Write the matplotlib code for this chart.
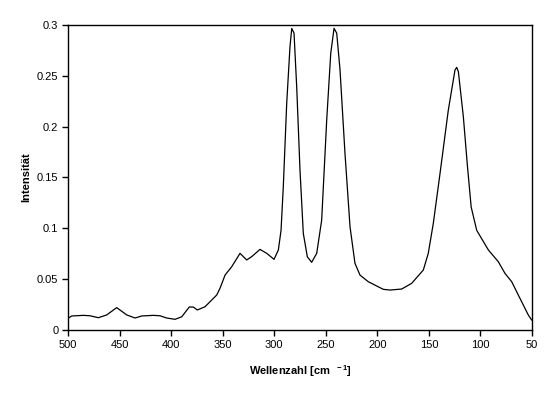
import matplotlib
matplotlib.use("Agg")
import matplotlib.pyplot as plt

plt.rcParams['font.family'] = ['Liberation Sans', 'DejaVu Sans']
plt.rcParams['mathtext.fontset'] = 'custom'
plt.rcParams['mathtext.rm'] = 'Liberation Sans:bold'
plt.rcParams['mathtext.it'] = 'Liberation Sans:bold'
plt.rcParams['mathtext.bf'] = 'Liberation Sans:bold'

wavenumber = [500, 496.4, 485, 478.7, 470.6, 462.5, 452.8, 443, 435, 428.5, 417.3, 410.8,
              404.3, 396.2, 389.7, 382.4, 378.5, 374.6, 367.1, 355.8, 352.6, 347.7, 341.2,
              333.2, 326.7, 321.8, 313.8, 307.3, 300.2, 296, 293.4, 291.2, 287.9, 284.7,
              283, 280.8, 278.2, 275, 271.8, 267.9, 263.7, 258.8, 254, 249.1, 245.2, 242,
              239.4, 236.2, 231.4, 226.5, 221.7, 216.8, 208.8, 202, 194.2, 187.7, 176.4,
              166.7, 155.4, 150.6, 145.7, 139.2, 131.2, 124.7, 123, 121.4, 116.6, 112.6,
              109, 103.6, 92.3, 82.7, 76.2, 69.7, 61.6, 53.6, 50.3]
intensity = [0.0115, 0.0138, 0.0144, 0.014, 0.0121, 0.0148, 0.022, 0.0148, 0.0118, 0.0138,
             0.0144, 0.014, 0.0118, 0.0105, 0.013, 0.0226, 0.0226, 0.0197, 0.0229, 0.0344,
             0.041, 0.054, 0.0623, 0.0754, 0.0689, 0.0722, 0.0793, 0.0754, 0.0695, 0.0787,
             0.098, 0.141, 0.223, 0.279, 0.2966, 0.292, 0.239, 0.157, 0.095, 0.072, 0.0666,
             0.0754, 0.108, 0.2066, 0.272, 0.2967, 0.292, 0.256, 0.174, 0.1016, 0.0656, 0.054,
             0.0475, 0.044, 0.040, 0.0393, 0.0403, 0.0459, 0.059, 0.0754, 0.105, 0.154, 0.216,
             0.2557, 0.2583, 0.254, 0.210, 0.161, 0.121, 0.098, 0.0787, 0.0672, 0.0557, 0.0475,
             0.031, 0.0148, 0.0098]

xticks = [500, 450, 400, 350, 300, 250, 200, 150, 100, 50]
yticks = [0, 0.05, 0.1, 0.15, 0.2, 0.25, 0.3]
ytick_labels = ["0", "0.05", "0.1", "0.15", "0.2", "0.25", "0.3"]

fig = plt.figure(figsize=(5.58, 3.93), dpi=100)
ax = fig.add_axes([0.1219, 0.1603, 0.8315, 0.7761])
ax.plot(wavenumber, intensity, color='black', linewidth=0.9)
ax.set_xlim(500, 50)
ax.set_ylim(0, 0.3)
ax.set_xticks(xticks)
ax.set_xticklabels([str(t) for t in xticks])
ax.set_yticks(yticks)
ax.set_yticklabels(ytick_labels)
ax.tick_params(direction='out', length=4, width=1, labelsize=8, pad=3)
for s in ax.spines.values():
    s.set_linewidth(1)
ax.set_xlabel(r"Wellenzahl [cm $^{\ -1}$]", fontsize=8, fontweight='bold', labelpad=10)
ax.set_ylabel("Intensität", fontsize=8, fontweight='bold', labelpad=4)
fig.savefig("out.png", dpi=100)
